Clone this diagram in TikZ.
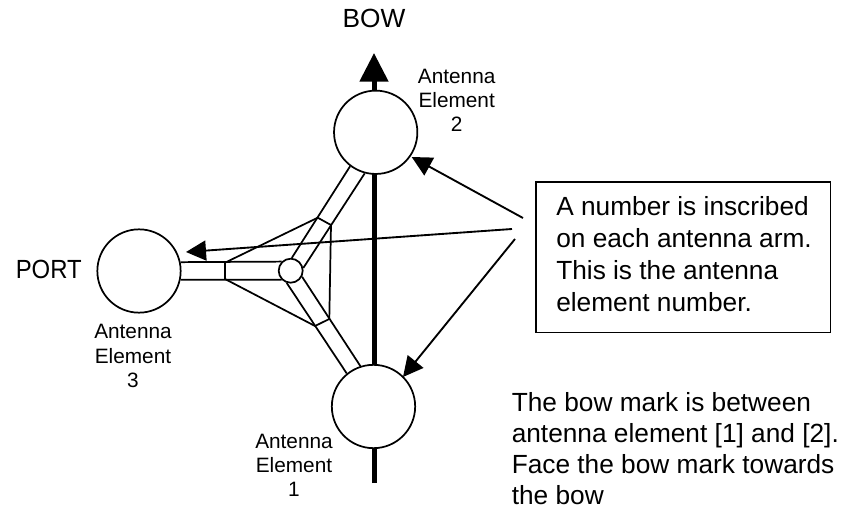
\documentclass[tikz,border=0pt]{standalone}
\usepackage{fontspec}
\setmainfont{Liberation Sans}
\usetikzlibrary{arrows.meta}

\tikzset{
  antenna/.style={circle, draw, line width=1.3pt, fill=white, minimum size=62.5pt, inner sep=0pt},
  hubcircle/.style={circle, draw, line width=1.3pt, fill=white, minimum size=18pt, inner sep=0pt},
  armline/.style={line width=1.3pt},
  pointer/.style={line width=1.4pt, -{Triangle[length=15pt,width=15pt]}},
  smalltext/.style={font=\fontsize{15.6}{18}\selectfont, align=center, inner sep=0pt},
  bigtext/.style={font=\fontsize{19.7}{24}\selectfont, align=left, inner sep=0pt}
}

\begin{document}
\begin{tikzpicture}[x=0.75pt, y=-0.75pt]
  \useasboundingbox (0,0) rectangle (844,510);

  % bow line
  \coordinate (sternend) at (374,483);
  \coordinate (bowend) at (374,53);
  \draw[line width=3.75pt, -{Triangle[length=21.5pt,width=21pt]}] (sternend) -- (bowend);

  % antenna elements
  \node[antenna] (ant1) at (373.5,406.5) {};
  \node[antenna] (ant2) at (375.7,132.3) {};
  \node[antenna] (ant3) at (139,271) {};
  \node[hubcircle] (hub) at (290.7,270.7) {};

  % arms
  \draw[armline] (ant3.12) -- (hub.135);  \draw[armline] (ant3.-12) -- (hub.225);
  \draw[armline] (ant2.233.5) -- (hub.85); \draw[armline] (ant2.255) -- (hub.12);
  \draw[armline] (ant1.129) -- (hub.252); \draw[armline] (ant1.108) -- (hub.332);

  % plate on the arms
  \coordinate (p1) at (225,262.7); \coordinate (p2) at (317.7,217.7);
  \coordinate (p3) at (331,225);   \coordinate (p4) at (329.3,319);
  \coordinate (p5) at (315,326);   \coordinate (p6) at (225,279);
  \draw[armline] (p1) -- (p2) -- (p3) -- (p4) -- (p5) -- (p6) -- cycle;

  % labels
  \node[smalltext, anchor=base] (lab2) at (456.7,132) {Antenna\\Element\\2};
  \node[smalltext, anchor=base] (lab1) at (294,496) {Antenna\\Element\\1};
  \node[smalltext, anchor=base] (lab3) at (133,387) {Antenna\\Element\\3};
  \node[bigtext, anchor=base] (bow) at (374,28) {BOW};
  \node[bigtext, anchor=base east, xscale=0.91, transform shape] (port) at (82,278) {PORT};

  % note box and pointers
  \node[draw, line width=1.3pt, anchor=north west, minimum width=221pt, minimum height=113pt] (note) at (535,181) {};
  \node[bigtext, anchor=base west] (notetext) at (556,311.7)
        {A number is inscribed\\on each antenna arm.\\This is the antenna\\element number.};
  \coordinate (from2) at (523,218); \coordinate (to2) at (411.7,157);
  \coordinate (from3) at (512,229); \coordinate (to3) at (186,252);
  \coordinate (from1) at (515,239); \coordinate (to1) at (403,377);
  \draw[pointer] (from2) -- (to2);
  \draw[pointer] (from3) -- (to3);
  \draw[pointer] (from1) -- (to1);

  \node[bigtext, font=\fontsize{19.7}{23.25}\selectfont, anchor=base west] (bowmark) at (511.5,504)
        {The bow mark is between\\antenna element [1] and [2].\\Face the bow mark towards\\the bow};
\end{tikzpicture}
\end{document}
